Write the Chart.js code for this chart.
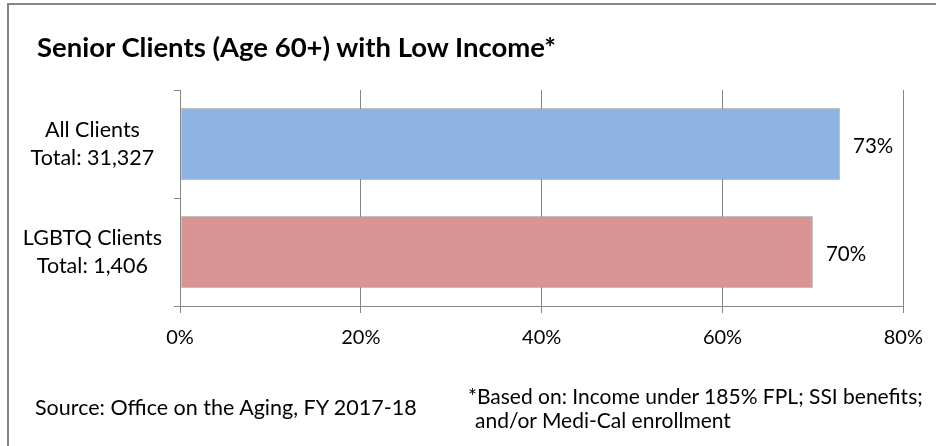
<!DOCTYPE html>
<html>
<head>
<meta charset="utf-8">
<script src="https://cdn.jsdelivr.net/npm/chart.js@4.4.1/dist/chart.umd.min.js"></script>
<style>
    html, body { margin: 0; padding: 0; background: #fff; }
    #wrap { position: relative; width: 936px; height: 446px; overflow: hidden; font-family: Lato, 'Liberation Sans', sans-serif; color: #000; }
    #frame { position: absolute; left: 7px; top: 3px; right: 0; bottom: 0; border-top: 2px solid #868686; border-left: 2px solid #868686; }
    #chartBox { position: absolute; left: 0; top: 0; width: 936px; height: 446px; }
    .txt { position: absolute; white-space: nowrap; line-height: 1; }
    #title { left: 37px; top: 33px; font-size: 27.5px; font-weight: bold; }
    #source { left: 35px; top: 397px; font-size: 21.5px; }
    #note { left: 468px; top: 384px; font-size: 21px; line-height: 24px; }
    #note span { padding-left: 7px; }
</style>
</head>
<body>
<div id="wrap">
    <div id="frame"></div>
    <div id="chartBox"><canvas id="lowIncomeChart" width="936" height="446"></canvas></div>
    <div class="txt" id="title">Senior Clients (Age 60+) with Low Income*</div>
    <div class="txt" id="source">Source: Office on the Aging, FY 2017-18</div>
    <div class="txt" id="note">*Based on: Income under 185% FPL; SSI benefits;<br><span>and/or Medi-Cal enrollment</span></div>
</div>
<script>
// --- Chart data ---
const categories = [['All Clients', 'Total: 31,327'], ['LGBTQ Clients', 'Total: 1,406']];
const lowIncomePct = [73, 70];
const barColors = ['#8EB4E3', '#D99594'];
const xTicks = [0, 20, 40, 60, 80];

const FONT = "Lato, 'Liberation Sans', sans-serif";
const axisGray = '#868686';

// draws the "73%" style labels just past the bar ends
const valueLabels = {
    id: 'valueLabels',
    afterDatasetsDraw(chart) {
        const ctx = chart.ctx;
        const meta = chart.getDatasetMeta(0);
        ctx.save();
        ctx.font = '20.5px ' + FONT;
        ctx.fillStyle = '#000';
        ctx.textAlign = 'left';
        ctx.textBaseline = 'middle';
        meta.data.forEach((bar, i) => {
            ctx.fillText(lowIncomePct[i] + '%', bar.x + 13, bar.y + 2.5);
        });
        ctx.restore();
    }
};

const ctx = document.getElementById('lowIncomeChart').getContext('2d');
new Chart(ctx, {
    type: 'bar',
    data: {
        labels: categories,
        datasets: [{
            data: lowIncomePct,
            backgroundColor: barColors,
            borderColor: 'rgba(140, 140, 140, 0.55)',
            borderWidth: 1,
            borderSkipped: false,
            categoryPercentage: 1,
            barPercentage: 0.665
        }]
    },
    options: {
        indexAxis: 'y',
        responsive: false,
        animation: false,
        layout: { padding: { left: 0, top: 90, right: 31, bottom: 100 } },
        plugins: {
            legend: { display: false },
            tooltip: { enabled: false }
        },
        scales: {
            x: {
                min: 0,
                max: 80,
                afterBuildTicks: (scale) => { scale.ticks = xTicks.map(v => ({ value: v })); },
                afterFit: (scale) => { scale.height = 40; },
                grid: { color: axisGray, lineWidth: 1, tickLength: 7, drawTicks: true },
                border: { color: axisGray, width: 1 },
                ticks: {
                    color: '#000',
                    font: { family: FONT, size: 20 },
                    padding: 13,
                    maxRotation: 0,
                    callback: (v) => v + '%'
                }
            },
            y: {
                afterFit: (scale) => { scale.width = 180; },
                grid: { color: axisGray, drawOnChartArea: false, tickLength: 6, offset: true },
                border: { color: axisGray, width: 1 },
                ticks: {
                    color: '#000',
                    crossAlign: 'center',
                    padding: 12,
                    font: { family: FONT, size: 21.5, lineHeight: '28px' }
                }
            }
        }
    },
    plugins: [valueLabels]
});
</script>
</body>
</html>
